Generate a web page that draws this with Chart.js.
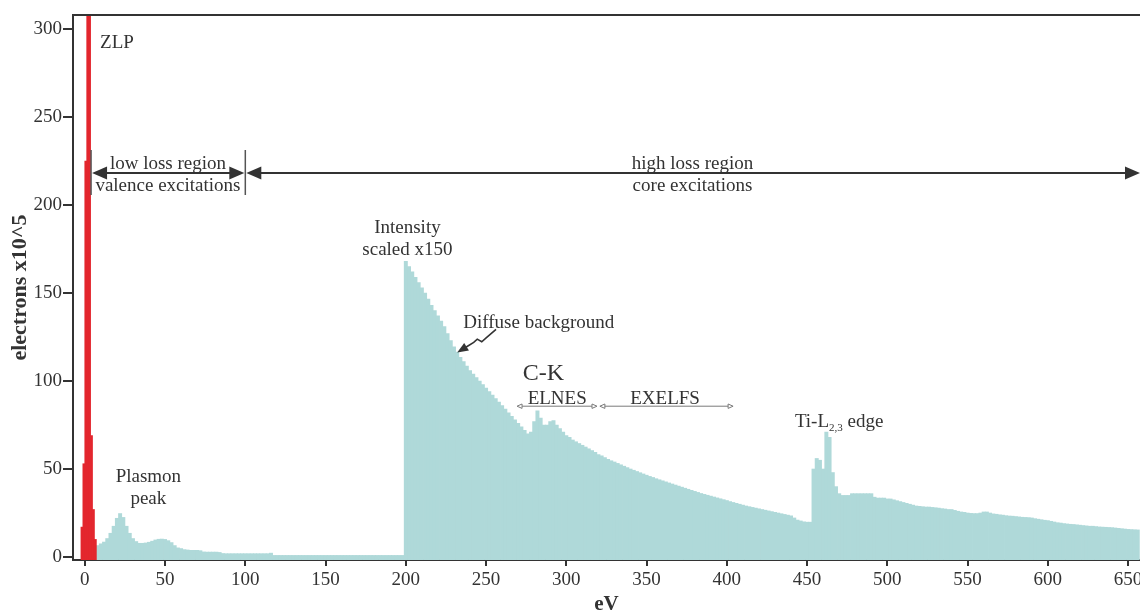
<!DOCTYPE html>
<html>
<head>
<meta charset="utf-8">
<script src="https://cdn.jsdelivr.net/npm/chart.js@4.4.1/dist/chart.umd.min.js"></script>
<style>
html,body{margin:0;padding:0;background:#ffffff;}
#wrap{width:1140px;height:613px;position:relative;}
</style>
</head>
<body>
<div id="wrap"><canvas id="c" width="1140" height="613"></canvas></div>
<script>
// ---- tick labels ----
const xTicks = [0, 50, 100, 150, 200, 250, 300, 350, 400, 450, 500, 550, 600, 650];
const yTicks = [0, 50, 100, 150, 200, 250, 300];

// ---- zero loss peak (red) ----
const zlpEnergy = [-1.8, -0.6, 0.6, 1.8, 3.0, 4.2, 5.4, 6.6];
const zlpCounts = [17, 53, 225, 1000, 1000, 69, 27, 10];

// ---- spectrum (teal), 2 eV channels ----
const lossStep = 2;
const lowLossStart = 8;     // eV of first channel
const lowLossCounts = [
  6.5, 7.5, 8.5, 10.5, 13.5, 17.5, 22, 24.7, 22.5, 17.5,
  13.5, 10.5, 8.8, 7.8, 7.8, 8.0, 8.4, 9.0, 9.7, 10.1,
  10.2, 10.0, 9.3, 8.2, 6.5, 5.2, 4.8, 4.2, 4.0, 3.8,
  3.8, 3.8, 3.6, 2.9, 2.8, 2.8, 2.8, 2.8, 2.6, 2.0,
  1.9, 1.9, 1.9, 1.9, 1.9, 1.9, 1.9, 1.9, 1.9, 1.9,
  1.9, 1.9, 1.9, 1.9, 2.2, 0.9, 0.9, 0.9, 0.9, 0.9,
  0.9, 0.9, 0.9, 0.9, 0.9, 0.9, 0.9, 0.9, 0.9, 0.9,
  0.9, 0.9, 0.9, 0.9, 0.9, 0.9, 0.9, 0.9, 0.9, 0.9,
  0.9, 0.9, 0.9, 0.9, 0.9, 0.9, 0.9, 0.9, 0.9, 0.9,
  0.9, 0.9, 0.9, 0.9, 0.9, 0.9
];
const highLossStart = 200;  // eV of first channel (intensity scaled x150)
const highLossCounts = [
  168, 165, 162, 159, 156, 153, 150, 146.5, 143, 140,
  137, 134, 131, 127, 123, 119.5, 116.5, 113.5, 111, 108.5,
  106, 104, 102, 100, 98, 96, 94, 92, 90, 88,
  86, 84, 82, 80, 78, 76, 74, 72, 70, 71,
  77, 83, 79, 75, 75, 77, 77.5, 75, 73, 71,
  69, 68, 66.5, 65.5, 64.5, 63.5, 62.5, 61.5, 60.5, 59.5,
  58.2, 57.5, 56.5, 55.5, 54.7, 54, 53.2, 52.4, 51.6, 50.8,
  50, 49.3, 48.6, 47.9, 47.2, 46.5, 45.8, 45.2, 44.5, 43.9,
  43.3, 42.7, 42.1, 41.5, 40.9, 40.3, 39.7, 39.1, 38.5, 37.9,
  37.3, 36.7, 36.1, 35.6, 35.1, 34.6, 34.1, 33.6, 33.1, 32.6,
  32.1, 31.5, 31, 30.5, 30, 29.5, 29, 28.6, 28.2, 27.8,
  27.4, 27, 26.6, 26.2, 25.8, 25.4, 25, 24.6, 24.2, 23.8,
  23.4, 22.2, 21, 20.5, 20, 19.8, 19.8, 50, 56, 55,
  50, 71, 68, 48, 40, 36, 35, 35, 35, 36,
  36, 36, 36, 36, 36, 36, 34, 33.5, 33.5, 33.5,
  33, 33, 32.5, 32, 31.5, 31, 30.5, 30, 29.5, 29,
  28.8, 28.6, 28.4, 28.4, 28.2, 28, 27.8, 27.5, 27.3, 27,
  27, 26.5, 26, 25.6, 25.4, 25, 24.8, 24.7, 24.7, 25,
  25.6, 25.6, 25, 24.5, 24.3, 24, 23.8, 23.5, 23.3, 23.2,
  23, 22.8, 22.6, 22.5, 22.4, 22.2, 21.8, 21.5, 21.2, 20.9,
  20.7, 20.3, 19.9, 19.5, 19.3, 19, 18.8, 18.6, 18.5, 18.3,
  18.1, 17.9, 17.7, 17.5, 17.5, 17.3, 17.1, 17, 16.9, 16.8,
  16.7, 16.5, 16.3, 16.1, 15.9, 15.7, 15.6, 15.5, 15.4
];

// ---- build point tables for the library ----
const zlpPoints = zlpEnergy.map((e, i) => ({x: e, y: zlpCounts[i]}));
const specPoints = [
  ...lowLossCounts.map((v, i) => ({x: lowLossStart + i * lossStep, y: v})),
  ...highLossCounts.map((v, i) => ({x: highLossStart + i * lossStep, y: v}))
];

const INK = '#333333';
const SERIF = "'Liberation Serif', 'Times New Roman', serif";
const Y_MIN = -1.7, Y_MAX = 308;

const annotationPlugin = {
  id: 'eelsAnnotations',
  afterDatasetsDraw(chart) {
    const {ctx, chartArea: ca, scales: {x, y}} = chart;
    const X = v => x.getPixelForValue(v);
    const Y = v => y.getPixelForValue(v);
    ctx.save();
    // top frame line
    ctx.strokeStyle = INK; ctx.lineWidth = 2;
    ctx.beginPath(); ctx.moveTo(ca.left - 1, ca.top); ctx.lineTo(ca.right, ca.top); ctx.stroke();

    const label = (s, ev, val, align, size, weight) => {
      ctx.font = `${weight || 'normal'} ${size || 19}px ${SERIF}`;
      ctx.fillStyle = INK; ctx.textAlign = align || 'center'; ctx.textBaseline = 'alphabetic';
      ctx.fillText(s, X(ev), Y(val));
    };
    const head = (tx, ty, dir, len, half, filled) => {
      ctx.beginPath();
      ctx.moveTo(tx, ty);
      ctx.lineTo(tx - dir * len, ty - half);
      ctx.lineTo(tx - dir * len, ty + half);
      ctx.closePath();
      if (filled) ctx.fill(); else ctx.stroke();
    };

    // ZLP
    label('ZLP', 9.5, 289.3, 'left');

    // low / high loss region arrows
    const ay = Y(218.2);
    const xl = X(3.9), xm = X(100), xr = ca.right;
    ctx.strokeStyle = INK; ctx.fillStyle = INK; ctx.lineWidth = 2;
    ctx.beginPath(); ctx.moveTo(xl + 8, ay); ctx.lineTo(xm - 8, ay); ctx.stroke();
    ctx.beginPath(); ctx.moveTo(xm + 8, ay); ctx.lineTo(xr - 8, ay); ctx.stroke();
    head(xl + 1, ay, -1, 15, 6.5, true);
    head(xm - 1, ay, 1, 15, 6.5, true);
    head(xm + 1, ay, -1, 15, 6.5, true);
    head(xr, ay, 1, 15, 6.5, true);
    ctx.strokeStyle = '#555'; ctx.lineWidth = 1.5;
    [xl, xm].forEach(px => {
      ctx.beginPath(); ctx.moveTo(px, Y(231.3)); ctx.lineTo(px, Y(205.7)); ctx.stroke();
    });
    label('low loss region', 51.8, 220.5);
    label('valence excitations', 51.8, 208.2);
    label('high loss region', 378.6, 220.5);
    label('core excitations', 378.6, 208.2);

    // scaling note
    label('Intensity', 201, 183.9);
    label('scaled x150', 201, 171.6);

    // diffuse background + squiggle arrow
    label('Diffuse background', 235.8, 129.9, 'left');
    const sq = [[256.2, 129.4], [250.4, 124.8], [247.3, 122.3], [244.5, 123.8], [242.3, 122.0], [237.9, 119.5], [233.6, 117.1]];
    ctx.strokeStyle = INK; ctx.lineWidth = 1.6;
    ctx.beginPath();
    sq.forEach((p, i) => { const px = X(p[0]), py = Y(p[1]); if (i === 0) ctx.moveTo(px, py); else ctx.lineTo(px, py); });
    ctx.stroke();
    {
      const tip = [X(232.0), Y(116.2)];
      const from = [X(sq[sq.length - 2][0]), Y(sq[sq.length - 2][1])];
      const ang = Math.atan2(tip[1] - from[1], tip[0] - from[0]);
      ctx.save(); ctx.translate(tip[0], tip[1]); ctx.rotate(ang);
      ctx.fillStyle = INK;
      ctx.beginPath(); ctx.moveTo(0, 0); ctx.lineTo(-11, -4.5); ctx.lineTo(-11, 4.5); ctx.closePath(); ctx.fill();
      ctx.restore();
    }

    // C-K edge
    label('C-K', 272.8, 100.5, 'left', 24);
    const ly = Y(85.7);
    ctx.strokeStyle = '#7a7a7a'; ctx.lineWidth = 1;
    const thin = (a, b) => {
      const x0 = X(a), x1 = X(b);
      ctx.beginPath(); ctx.moveTo(x0 + 5, ly); ctx.lineTo(x1 - 5, ly); ctx.stroke();
      head(x0, ly, -1, 5, 2.2, false);
      head(x1, ly, 1, 5, 2.2, false);
    };
    thin(269.3, 319.1);
    thin(320.9, 403.9);
    label('ELNES', 294.3, 86.9);
    label('EXELFS', 361.5, 86.9);

    // Ti-L2,3 edge
    {
      ctx.fillStyle = INK; ctx.textBaseline = 'alphabetic'; ctx.textAlign = 'left';
      let px = X(442.4); const py = Y(73.6);
      ctx.font = `19px ${SERIF}`; ctx.fillText('Ti-L', px, py); px += ctx.measureText('Ti-L').width;
      ctx.font = `11px ${SERIF}`; ctx.fillText('2,3', px, py + 4); px += ctx.measureText('2,3').width;
      ctx.font = `19px ${SERIF}`; ctx.fillText(' edge', px, py);
    }

    // Plasmon
    label('Plasmon', 39.6, 42.7);
    label('peak', 39.6, 30.4);
    ctx.restore();
  }
};

new Chart(document.getElementById('c'), {
  type: 'bar',
  data: {
    datasets: [
      {
        label: 'ZLP',
        data: zlpPoints,
        backgroundColor: '#e3262d',
        borderWidth: 0,
        barThickness: 2,
        grouped: false,
        base: Y_MIN
      },
      {
        label: 'spectrum',
        data: specPoints,
        backgroundColor: '#afd9d9',
        borderWidth: 0,
        barThickness: 3.3,
        grouped: false,
        base: Y_MIN
      }
    ]
  },
  options: {
    responsive: false,
    animation: false,
    devicePixelRatio: 1,
    layout: {padding: {top: 15, right: 0, bottom: 0, left: 0}},
    plugins: {legend: {display: false}, tooltip: {enabled: false}},
    scales: {
      x: {
        type: 'linear',
        offset: false,
        min: -7.35,
        max: 657.4,
        afterBuildTicks: s => { s.ticks = xTicks.map(v => ({value: v})); },
        afterFit: s => { s.height = 53; s.paddingRight = 0; s.paddingLeft = 0; },
        grid: {display: true, offset: false, drawOnChartArea: false, drawTicks: true, tickLength: 6, color: INK, lineWidth: 2},
        border: {display: true, color: INK, width: 2},
        ticks: {font: {family: SERIF, size: 19}, color: INK, padding: 3, maxRotation: 0, autoSkip: false},
        title: {display: true, text: 'eV', color: INK, font: {family: SERIF, size: 21, weight: 'bold', lineHeight: 0.8}, padding: {top: 0, bottom: 0}}
      },
      y: {
        min: Y_MIN,
        max: Y_MAX,
        afterBuildTicks: s => { s.ticks = yTicks.map(v => ({value: v})); },
        afterFit: s => { s.width = 73; },
        grid: {display: true, drawOnChartArea: false, drawTicks: true, tickLength: 10, color: INK, lineWidth: 2},
        border: {display: true, color: INK, width: 2},
        ticks: {font: {family: SERIF, size: 19}, color: INK, padding: 1},
        title: {display: true, text: 'electrons x10^5', color: INK, font: {family: SERIF, size: 22, weight: 'bold', lineHeight: 1}, padding: {top: 9, bottom: 0}}
      }
    }
  },
  plugins: [annotationPlugin]
});
</script>
</body>
</html>
